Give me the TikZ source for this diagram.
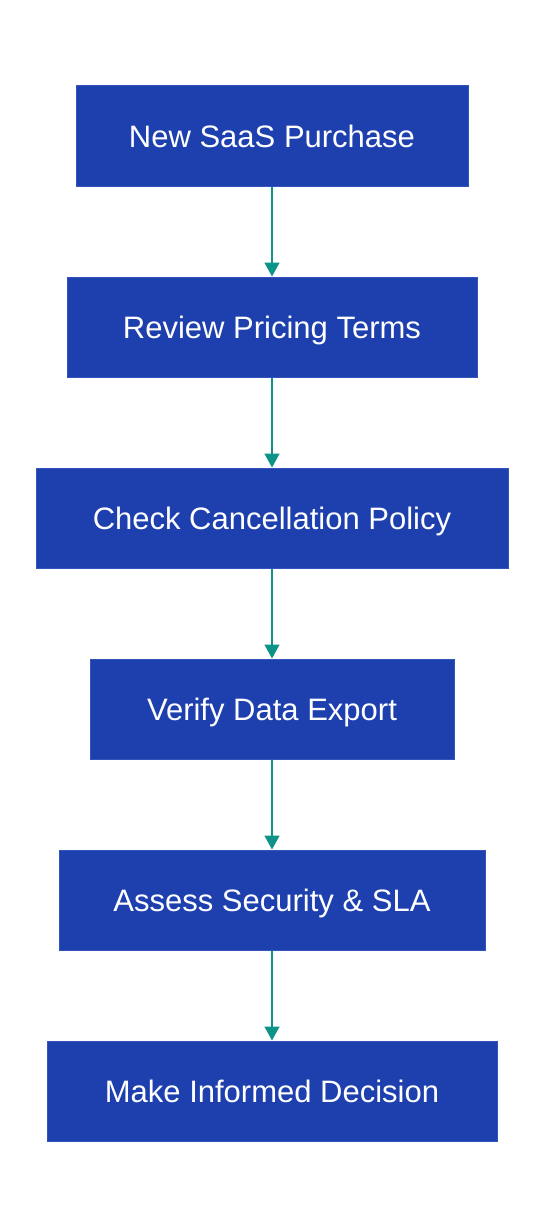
\documentclass[tikz,border=0pt]{standalone}
\usepackage{fontspec}
\setmainfont{Liberation Sans}
\usetikzlibrary{arrows.meta}
\definecolor{boxfill}{HTML}{1E40AF}
\definecolor{boxline}{HTML}{3355BB}
\definecolor{arrowc}{HTML}{0D9488}
\tikzset{
  stepbox/.style={draw=boxline, line width=1pt, fill=boxfill, text=white, minimum height=100pt, inner sep=0pt, text height=22pt, text depth=0pt, font=\fontsize{31pt}{37pt}\selectfont},
  flow/.style={draw=arrowc, line width=1.5pt, -{Triangle[length=14pt,width=15pt]}}
}
\begin{document}
\begin{tikzpicture}[x=1pt,y=-1pt]
\useasboundingbox[fill=white] (0,0) rectangle (544,1228);
\node[stepbox, minimum width=392pt] (n1) at (272,136) {New SaaS Purchase};
\node[stepbox, minimum width=410pt] (n2) at (272,327) {Review Pricing Terms};
\node[stepbox, minimum width=472pt] (n3) at (272,518) {Check Cancellation Policy};
\node[stepbox, minimum width=364pt] (n4) at (272,709) {Verify Data Export};
\node[stepbox, minimum width=426pt] (n5) at (272,900) {Assess Security \& SLA};
\node[stepbox, minimum width=450pt] (n6) at (272,1091) {Make Informed Decision};
\draw[flow] (n1) -- (n2);
\draw[flow] (n2) -- (n3);
\draw[flow] (n3) -- (n4);
\draw[flow] (n4) -- (n5);
\draw[flow] (n5) -- (n6);
\end{tikzpicture}
\end{document}
